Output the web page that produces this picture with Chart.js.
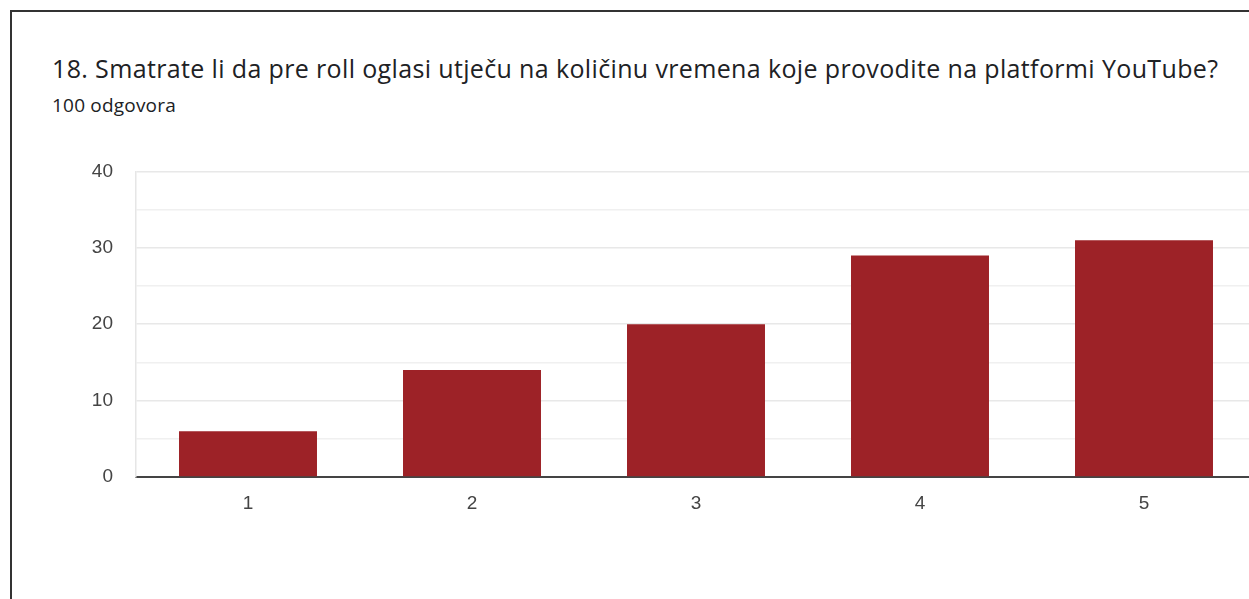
<!DOCTYPE html>
<html>
<head>
<meta charset="utf-8">
<script src="https://cdn.jsdelivr.net/npm/chart.js@4"></script>
<style>
    html, body { margin: 0; padding: 0; background: #fff; overflow: hidden; }
    body { width: 1249px; height: 599px; position: relative; }
    .card {
        position: absolute; left: 10px; top: 10px; width: 1300px; height: 700px;
        border-left: 2px solid #333; border-top: 2px solid #333;
    }
    .title {
        position: absolute; left: 52px; top: 56px; margin: 0; line-height: 1;
        font-family: "Open Sans", sans-serif; font-weight: 400; font-size: 25px; color: #202124;
        letter-spacing: 0.36px; white-space: nowrap;
    }
    .subtitle {
        position: absolute; left: 52px; top: 96px; margin: 0; line-height: 1;
        font-family: "Open Sans", sans-serif; font-size: 19px; color: #202124;
        letter-spacing: 0.2px;
    }
    .chart-box { position: absolute; left: 0; top: 137px; }
</style>
</head>
<body>
<div class="card"></div>
<h1 class="title">18. Smatrate li da pre roll oglasi utječu na količinu vremena koje provodite na platformi YouTube?</h1>
<p class="subtitle">100 odgovora</p>
<div class="chart-box"><canvas id="chart" width="1256" height="413"></canvas></div>
<script>
const categories = ['1', '2', '3', '4', '5'];
const responses = [6, 14, 20, 29, 31];
const yMax = 40;
const yStep = 5;

document.addEventListener('DOMContentLoaded', () => {
    const ctx = document.getElementById('chart').getContext('2d');
    new Chart(ctx, {
        type: 'bar',
        data: {
            labels: categories,
            datasets: [{
                label: 'Odgovori',
                data: responses,
                backgroundColor: '#9d2227',
                borderWidth: 0,
                categoryPercentage: 1,
                barPercentage: 0.616
            }]
        },
        options: {
            responsive: false,
            animation: false,
            layout: { padding: { top: 28, right: 0, bottom: 0, left: 0 } },
            plugins: { legend: { display: false }, tooltip: { enabled: false } },
            scales: {
                x: {
                    grid: { display: false },
                    border: { display: true, color: '#444', width: 2 },
                    ticks: {
                        color: '#444',
                        font: { family: 'Liberation Sans, Arial, sans-serif', size: 19 },
                        padding: 7
                    },
                    afterFit: scale => { scale.height = 73; }
                },
                y: {
                    min: 0,
                    max: yMax,
                    ticks: {
                        stepSize: yStep,
                        color: '#444',
                        padding: 23,
                        font: { family: 'Liberation Sans, Arial, sans-serif', size: 19 },
                        callback: v => (v % 10 === 0 ? v : '')
                    },
                    grid: {
                        color: c => (c.tick.value === 0 ? 'rgba(0,0,0,0)' : (c.tick.value % 10 === 0 ? '#e8e8e8' : '#f0f0f0')),
                        lineWidth: 1.5,
                        drawTicks: false
                    },
                    border: { display: true, color: '#e6e6e6', width: 1.5 },
                    afterFit: scale => { scale.width = 136; }
                }
            }
        }
    });
});
</script>
</body>
</html>
